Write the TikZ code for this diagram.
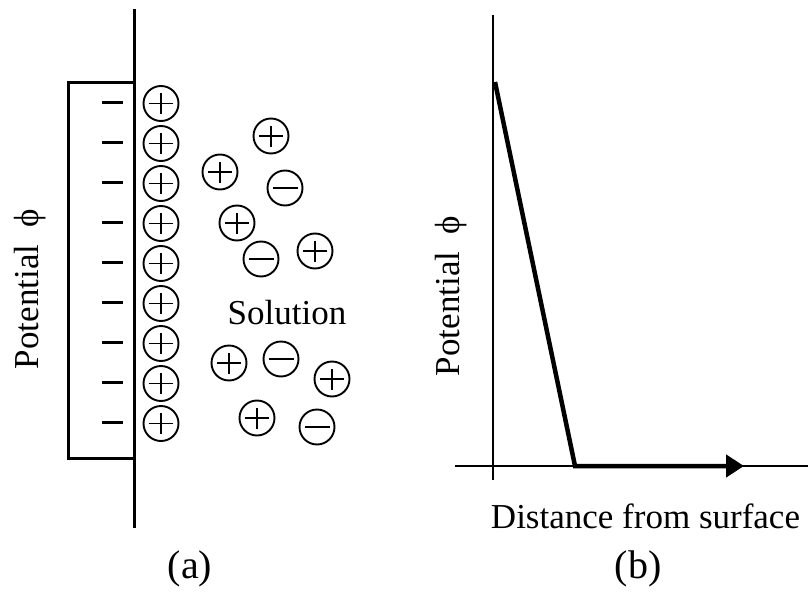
\documentclass[tikz,border=0pt]{standalone}
\usepackage{fontspec}
\setmainfont{Liberation Serif}
\usetikzlibrary{arrows.meta}
\tikzset{
  ion/.style={circle, draw, line width=1.9pt, minimum size=35pt, inner sep=0pt},
  pion/.style={ion, path picture={\draw[line width=1.9pt]
      ([xshift=-12pt]path picture bounding box.center) -- ([xshift=12pt]path picture bounding box.center)
      ([yshift=-10.5pt]path picture bounding box.center) -- ([yshift=10.5pt]path picture bounding box.center);}},
  nion/.style={ion, path picture={\draw[line width=1.9pt]
      ([xshift=-12.5pt]path picture bounding box.center) -- ([xshift=12.5pt]path picture bounding box.center);}},
  lbl/.style={font=\fontsize{35}{42}\selectfont, inner sep=0pt},
  capt/.style={font=\fontsize{40}{48}\selectfont, inner sep=0pt},
  surf/.style={line width=3pt},
  axis/.style={line width=2.3pt},
  curve/.style={line width=4.5pt, line join=miter},
  mns/.style={line width=3pt}
}
\begin{document}
\begin{tikzpicture}[x=1pt,y=-1pt]
\useasboundingbox (0,0) rectangle (808,594);
% panel (a)
\coordinate (st) at (134,9);
\coordinate (sb) at (134,528);
\draw[surf] (st) -- (sb);
\coordinate (bt) at (134,82);
\coordinate (bb) at (134,458);
\draw[surf] (bt) -- (68,82) -- (68,458) -- (bb);
\foreach \i in {0,...,8}{
  \coordinate (m\i a) at (102,102+40*\i);
  \coordinate (m\i b) at (123,102+40*\i);
  \draw[mns] (m\i a) -- (m\i b);
  \node[pion] (c\i) at (161,103.5+40*\i) {};
}
\node[pion] (s1) at (271,136) {};
\node[pion] (s2) at (220,172) {};
\node[nion] (s3) at (285,188) {};
\node[pion] (s4) at (237,223) {};
\node[nion] (s5) at (261,259) {};
\node[pion] (s6) at (315,251) {};
\node[pion] (s7) at (229,363) {};
\node[nion] (s8) at (281,359) {};
\node[pion] (s9) at (332,379) {};
\node[pion] (s10) at (257,418) {};
\node[nion] (s11) at (317,427) {};
\node[lbl] (sol) at (287,313) {Solution};
\node[lbl, rotate=90] (pa) at (30,289) {Potential\ \ ϕ};
\node[capt] (ca) at (190,569) {(a)};
% panel (b)
\coordinate (yt) at (493,15);
\coordinate (yb) at (493,480);
\draw[axis] (yt) -- (yb);
\coordinate (xl) at (455,466);
\coordinate (xr) at (808,466);
\draw[axis] (xl) -- (xr);
\coordinate (p0) at (495,82);
\coordinate (p1) at (575,466);
\coordinate (p2) at (744,466);
\draw[curve, -{Triangle[length=18pt,width=22pt]}] (p0) -- (p1) -- (p2);
\node[lbl, rotate=90] (pb) at (451,296) {Potential\ \ ϕ};
\node[lbl] (dist) at (645.5,516) {Distance from surface};
\node[capt] (cb) at (638,569) {(b)};
\end{tikzpicture}
\end{document}
